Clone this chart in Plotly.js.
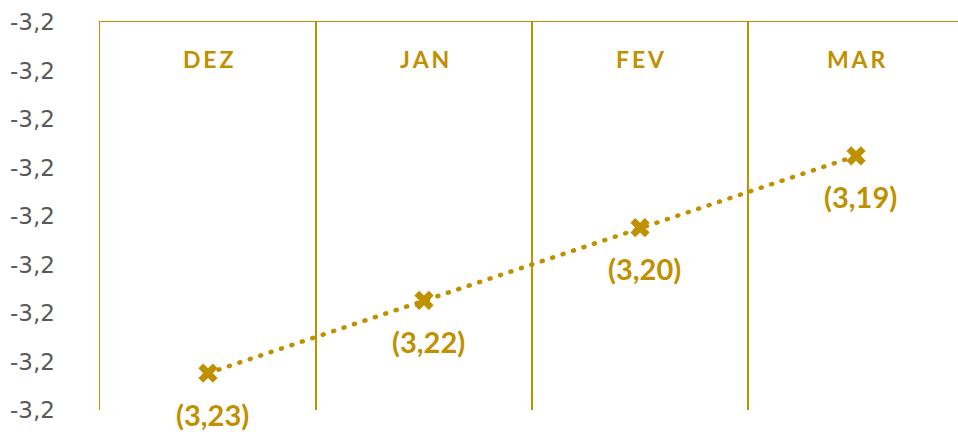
<!DOCTYPE html>
<html>
<head>
<meta charset="utf-8">
<script src="https://cdn.plot.ly/plotly-3.0.1.min.js"></script>
<style>
html,body{margin:0;padding:0;background:#fff;}
#chart{width:958px;height:432px;}
.js-line{stroke-linecap:round;}
</style>
</head>
<body>
<div id="chart"></div>
<script>
const months = ['DEZ', 'JAN', 'FEV', 'MAR'];
const values = [-3.2362, -3.2287, -3.2212, -3.2138];
const valueLabels = ['(3,23)', '(3,22)', '(3,20)', '(3,19)'];
const yTickVals = [-3.240, -3.235, -3.230, -3.225, -3.220, -3.215, -3.210, -3.205, -3.200];
const yTickText = ['-3,2', '-3,2', '-3,2', '-3,2', '-3,2', '-3,2', '-3,2', '-3,2', '-3,2'];

const gold = '#BF9000';
const xIdx = months.map((m, i) => i);
const boundaries = [-0.5].concat(xIdx.map(i => i + 0.5));

const trace = {
  x: xIdx,
  y: values,
  type: 'scatter',
  mode: 'lines+markers',
  line: {color: gold, width: 4.5, dash: '1px,10px'},
  marker: {symbol: 'x', size: 17, color: gold, line: {width: 0}},
  hoverinfo: 'skip',
  showlegend: false
};

const ghost = {
  x: xIdx, y: values, xaxis: 'x2', type: 'scatter', mode: 'none',
  hoverinfo: 'skip', showlegend: false
};

const annotations = [];
months.forEach((m, i) => {
  annotations.push({
    x: i, xref: 'x', y: 1, yref: 'paper', yanchor: 'middle', yshift: -37,
    text: '<b>' + m.split('').join('\u2009') + '</b>', showarrow: false,
    font: {family: 'Lato, "Open Sans", sans-serif', size: 23, color: gold}
  });
  annotations.push({
    x: i, xref: 'x', y: values[i], yref: 'y', yanchor: 'middle', yshift: -41, xshift: 4,
    text: '<b>' + valueLabels[i] + '</b>', showarrow: false,
    font: {family: 'Lato, "Open Sans", sans-serif', size: 29, color: gold}
  });
});

const layout = {
  width: 958, height: 432,
  margin: {l: 100, r: 0, t: 22, b: 22, pad: 0},
  paper_bgcolor: '#fff', plot_bgcolor: '#fff',
  xaxis: {
    range: [-0.5, 3.472], showgrid: false, zeroline: false,
    showticklabels: false, ticks: '', side: 'top',
    showline: true, linecolor: gold, linewidth: 1.5
  },
  xaxis2: {
    overlaying: 'x', range: [-0.5, 3.472], tickmode: 'array', tickvals: boundaries,
    showgrid: true, gridcolor: gold, gridwidth: 1.5, zeroline: false,
    showticklabels: false, ticks: '', showline: false
  },
  yaxis: {
    range: [-3.24, -3.20], tickmode: 'array', tickvals: yTickVals, ticktext: yTickText,
    showgrid: false, zeroline: false, ticks: '', ticklabelstandoff: 39,
    showline: true, linecolor: gold, linewidth: 1.5,
    tickfont: {family: '"DejaVu Sans", sans-serif', size: 23, color: '#595959'}
  },
  annotations: annotations,
  showlegend: false
};

Plotly.newPlot('chart', [ghost, trace], layout, {displayModeBar: false, staticPlot: true});
</script>
</body>
</html>
